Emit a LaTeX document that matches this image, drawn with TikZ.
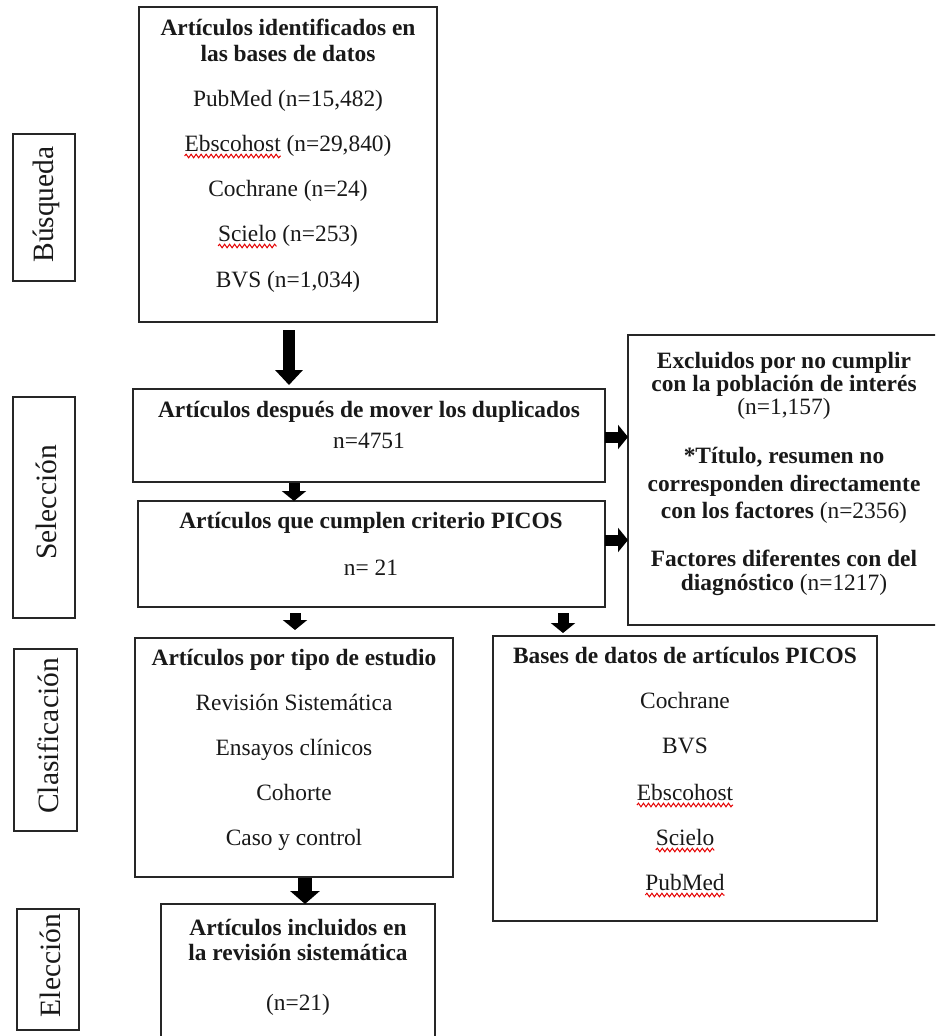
\documentclass[tikz,border=0pt]{standalone}
\usepackage{fontspec}
\setmainfont{Liberation Serif}
\usetikzlibrary{arrows.meta,decorations.pathmorphing}
\newlength\wordw
\newlength\wordv
\begin{document}
\begin{tikzpicture}[x=1pt,y=-1pt,
  every node/.style={font=\fontsize{23.4}{28}\selectfont},
  box/.style={draw=black!85, line width=1.3pt, inner sep=0pt, outer sep=0pt},
  txt/.style={anchor=base, inner sep=0pt, outer sep=0pt, text=black!90},
  side/.style={rotate=90, inner sep=0pt, text=black!90, font=\fontsize{29.5}{34}\selectfont},
  bigarrow/.style={line width=12pt, -{Triangle[length=15pt,width=27pt]}},
  smallarrow/.style={line width=11pt, -{Triangle[length=10pt,width=24pt]}},
  midarrow/.style={line width=14pt, -{Triangle[length=13pt,width=29pt]}},
  wave/.style={red!90!black, line width=1pt, decorate, decoration={snake, amplitude=1.8pt, segment length=5pt}}
]
\useasboundingbox (0,0) rectangle (935,1036);
\clip (0,0) rectangle (935,1036);
\fill[white] (0,0) rectangle (935,1036);

% boxes
\node[box, minimum width=298pt, minimum height=315pt] (top) at (288,164.5) {};
\node[box, minimum width=62pt, minimum height=147pt] (busq) at (44,207.5) {};
\node[box, minimum width=472pt, minimum height=93pt] (dup) at (369,435.5) {};
\node[box, minimum width=467pt, minimum height=106pt] (picos) at (371.5,554) {};
\node[box, minimum width=62pt, minimum height=221pt] (sel) at (44,507.5) {};
\node[box, minimum width=312pt, minimum height=290pt] (excl) at (784,480) {};
\node[box, minimum width=318pt, minimum height=239pt] (tipo) at (294,757.5) {};
\node[box, minimum width=384pt, minimum height=285pt] (bases) at (685,778.5) {};
\node[box, minimum width=63pt, minimum height=182pt] (clas) at (45.5,740) {};
\node[box, minimum width=62pt, minimum height=121pt] (elec) at (48,969.5) {};
\node[box, minimum width=274pt, minimum height=141pt] (incl) at (298,974.5) {};

% side labels
\node[side] (lbusq) at ([xshift=2pt,yshift=3pt]busq.center) {Búsqueda};
\node[side] (lsel) at ([xshift=2pt,yshift=5pt]sel.center) {Selección};
\node[side] (lclas) at ([xshift=3pt,yshift=4pt]clas.center) {Clasificación};
\node[side] (lelec) at ([xshift=2pt,yshift=4pt]elec.center) {Elección};

% top box text
\node[txt] (t1) at (288,35) {\textbf{Artículos identificados en}};
\node[txt] (t2) at (288,61) {\textbf{las bases de datos}};
\node[txt] (t3) at (288,106) {PubMed (n=15,482)};
\node[txt] (t4) at (288,151) {\settowidth\wordw{Ebscohost}\global\wordw=\wordw Ebscohost (n=29,840)};
\node[txt] (t5) at (288,196) {Cochrane (n=24)};
\node[txt] (t6) at (288,241) {\settowidth\wordv{Scielo}\global\wordv=\wordv Scielo (n=253)};
\node[txt] (t7) at (288,287) {BVS (n=1,034)};
\draw[wave] ([yshift=-5pt]t4.base west) -- ++(\wordw,0pt);
\draw[wave] ([yshift=-5pt]t6.base west) -- ++(\wordv,0pt);

% dup box
\node[txt] (d1) at (369,417) {\textbf{Artículos después de mover los duplicados}};
\node[txt] (d2) at (369,448) {n=4751};

% picos box
\node[txt] (p1) at (371,528) {\textbf{Artículos que cumplen criterio PICOS}};
\node[txt] (p2) at (371,575) {n= 21};

% excluded box
\node[txt] (e1) at (784,368) {\textbf{Excluidos por no cumplir}};
\node[txt] (e2) at (784,391) {\textbf{con la población de interés}};
\node[txt] (e3) at (784,414) {(n=1,157)};
\node[txt] (e4) at (784,463) {\textbf{*Título, resumen no}};
\node[txt] (e5) at (784,491) {\textbf{corresponden directamente}};
\node[txt] (e6) at (784,518) {\textbf{con los factores} (n=2356)};
\node[txt] (e7) at (784,566) {\textbf{Factores diferentes con del}};
\node[txt] (e8) at (784,590) {\textbf{diagnóstico} (n=1217)};

% tipo box
\node[txt] (s1) at (294,665) {\textbf{Artículos por tipo de estudio}};
\node[txt] (s2) at (294,710) {Revisión Sistemática};
\node[txt] (s3) at (294,755) {Ensayos clínicos};
\node[txt] (s4) at (294,800) {Cohorte};
\node[txt] (s5) at (294,845) {Caso y control};

% bases box
\node[txt] (b1) at (685,663) {\textbf{Bases de datos de artículos PICOS}};
\node[txt] (b2) at (685,708) {Cochrane};
\node[txt] (b3) at (685,753) {BVS};
\node[txt] (b4) at (685,800) {Ebscohost};
\node[txt] (b5) at (685,845) {Scielo};
\node[txt] (b6) at (685,890) {PubMed};
\draw[wave] ([yshift=-5pt]b4.base west) -- ([yshift=-5pt]b4.base east);
\draw[wave] ([yshift=-5pt]b5.base west) -- ([yshift=-5pt]b5.base east);
\draw[wave] ([yshift=-5pt]b6.base west) -- ([yshift=-5pt]b6.base east);

% included box
\node[txt] (i1) at (298,935) {\textbf{Artículos incluidos en}};
\node[txt] (i2) at (298,960) {\textbf{la revisión sistemática}};
\node[txt] (i3) at (298,1010) {(n=21)};

% arrows
\coordinate (xa) at (289,0);
\coordinate (xb) at (294,0);
\coordinate (xc) at (295,0);
\coordinate (xd) at (563,0);
\coordinate (xe) at (305,0);
\coordinate (ya) at (0,437);
\coordinate (yb) at (0,540);
\draw[bigarrow] ([yshift=-8pt]top.south -| xa) -- ([yshift=4pt]dup.north -| xa);
\draw[smallarrow] ([yshift=-1pt]dup.south -| xb) -- (picos.north -| xb);
\draw[smallarrow] ([yshift=-6pt]picos.south -| xc) -- ([yshift=8pt]tipo.north -| xc);
\draw[smallarrow] ([yshift=-6pt]picos.south -| xd) -- ([yshift=3pt]bases.north -| xd);
\draw[midarrow] ([yshift=-1pt]tipo.south -| xe) -- (incl.north -| xe);
\draw[smallarrow] (dup.east |- ya) -- (excl.west |- ya);
\draw[smallarrow] (picos.east |- yb) -- (excl.west |- yb);
\end{tikzpicture}
\end{document}
